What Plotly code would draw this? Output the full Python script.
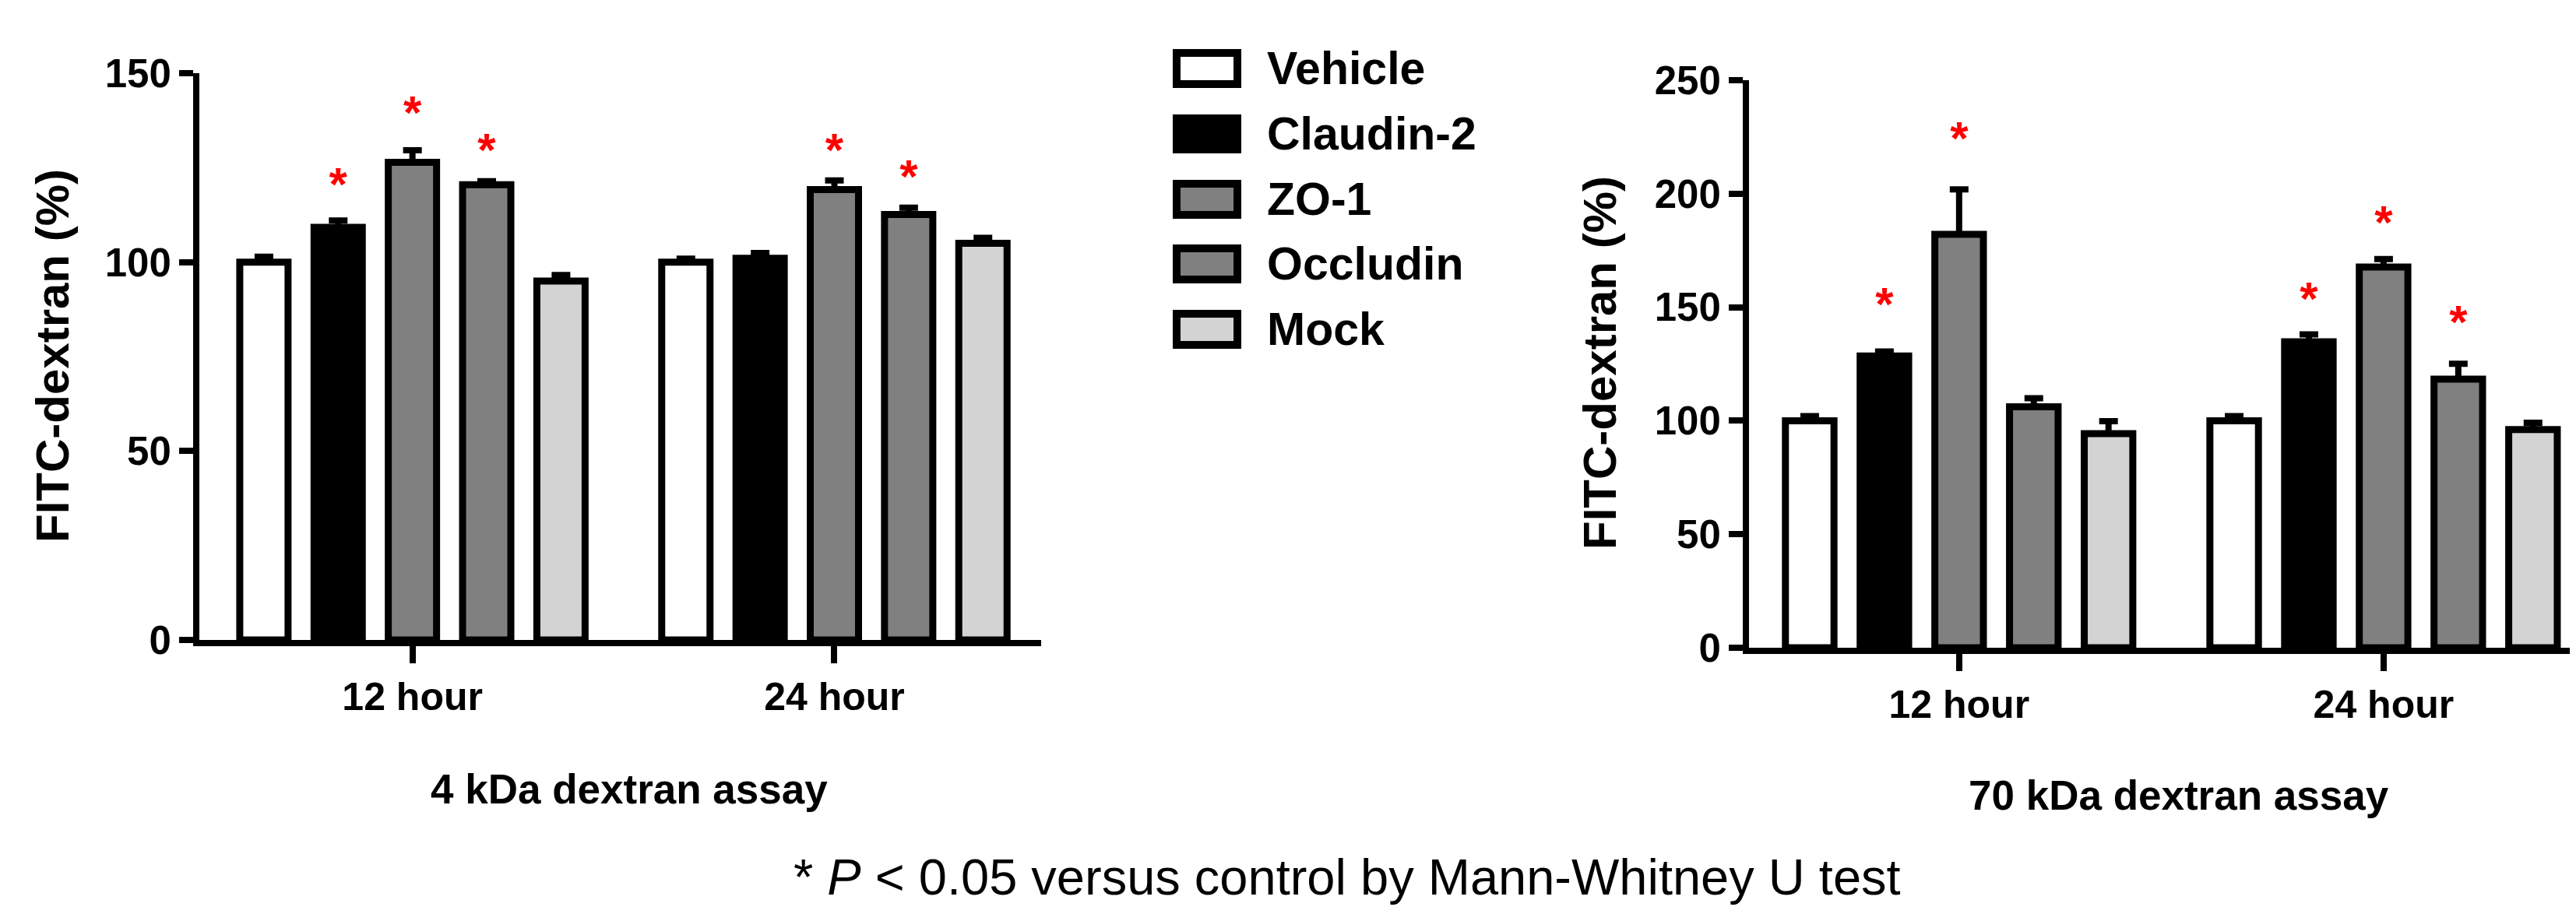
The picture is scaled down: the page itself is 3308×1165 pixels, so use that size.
import plotly.graph_objects as go

W, H = 3308, 1165

# ---------------- data ----------------
groups = ["12 hour", "24 hour"]
series = ["Vehicle", "Claudin-2", "ZO-1", "Occludin", "Mock"]
colors = ["#ffffff", "#000000", "#808080", "#808080", "#d3d3d3"]

# 4 kDa dextran assay (12 hour, 24 hour)
k4_vehicle = [100.0, 100.0]
k4_claudin2 = [109.2, 101.0]
k4_zo1 = [126.4, 119.2]
k4_occludin = [120.5, 112.6]
k4_mock = [95.0, 105.0]
k4_vehicle_err = [1.4, 0.9]
k4_claudin2_err = [1.8, 1.4]
k4_zo1_err = [3.2, 2.4]
k4_occludin_err = [0.9, 1.8]
k4_mock_err = [1.6, 1.4]
# asterisk heights (None = not significant)
k4_star_claudin2 = [119.5, None]
k4_star_zo1 = [138.5, 128.6]
k4_star_occludin = [128.5, 121.5]

# 70 kDa dextran assay (12 hour, 24 hour)
k70_vehicle = [100.0, 100.0]
k70_claudin2 = [128.5, 134.8]
k70_zo1 = [182.1, 167.7]
k70_occludin = [106.1, 118.3]
k70_mock = [94.3, 96.1]
k70_vehicle_err = [2.0, 2.0]
k70_claudin2_err = [2.0, 3.2]
k70_zo1_err = [19.8, 3.5]
k70_occludin_err = [3.8, 6.8]
k70_mock_err = [5.5, 3.0]
k70_star_claudin2 = [149.5, 152.0]
k70_star_zo1 = [222.5, 185.5]
k70_star_occludin = [None, 141.5]

y1_ticks = [0, 50, 100, 150]
y2_ticks = [0, 50, 100, 150, 200, 250]

# --------------- figure ---------------
BARGAP = 0.12
GROUPGAP = 0.35
LINE_W = 9

fig = go.Figure()

panels = [
    dict(xa="x", ya="y",
         means=[k4_vehicle, k4_claudin2, k4_zo1, k4_occludin, k4_mock],
         errs=[k4_vehicle_err, k4_claudin2_err, k4_zo1_err, k4_occludin_err, k4_mock_err],
         stars=[None, k4_star_claudin2, k4_star_zo1, k4_star_occludin, None]),
    dict(xa="x2", ya="y2",
         means=[k70_vehicle, k70_claudin2, k70_zo1, k70_occludin, k70_mock],
         errs=[k70_vehicle_err, k70_claudin2_err, k70_zo1_err, k70_occludin_err, k70_mock_err],
         stars=[None, k70_star_claudin2, k70_star_zo1, k70_star_occludin, None]),
]

slot = (1 - BARGAP) / len(series)
for p in panels:
    for i, name in enumerate(series):
        fig.add_trace(go.Bar(
            x=[0, 1], y=p["means"][i], name=name, showlegend=False,
            xaxis=p["xa"], yaxis=p["ya"],
            marker=dict(color=colors[i], line=dict(color="black", width=LINE_W)),
            error_y=dict(type="data", array=p["errs"][i], arrayminus=[0, 0],
                         symmetric=False, color="black", thickness=8, width=12),
        ))
    sx, sy = [], []
    for i, st in enumerate(p["stars"]):
        if st is None:
            continue
        for g, v in enumerate(st):
            if v is None:
                continue
            sx.append(g + (i - (len(series) - 1) / 2) * slot)
            sy.append(v)
    fig.add_trace(go.Scatter(
        x=sx, y=sy, mode="text", text=["*"] * len(sx), showlegend=False,
        xaxis=p["xa"], yaxis=p["ya"], textposition="middle center",
        textfont=dict(color="#ff0000", size=60, family="Liberation Sans, Arial", weight="bold"),
        cliponaxis=False,
    ))

FONT = "Liberation Sans, Arial, sans-serif"

def xax(domain, rng):
    return dict(domain=domain, range=rng, tickmode="array", tickvals=[0, 1], ticktext=groups,
                showline=True, linewidth=8, linecolor="black", ticks="outside", ticklen=22,
                tickwidth=8, tickcolor="black", showgrid=False, zeroline=False, automargin=False,
                tickfont=dict(family=FONT, size=50, color="black", weight="bold"))

def yax(domain, rng, tv):
    return dict(domain=domain, range=rng, tickmode="array", tickvals=tv,
                showline=True, linewidth=8, linecolor="black", ticks="outside", ticklen=18,
                tickwidth=8, tickcolor="black", showgrid=False, zeroline=False, automargin=False,
                tickfont=dict(family=FONT, size=51, color="black", weight="bold"))

fig.update_layout(
    width=W, height=H, margin=dict(l=0, r=0, t=0, b=0, pad=0, autoexpand=False),
    paper_bgcolor="white", plot_bgcolor="white",
    barmode="group", bargap=BARGAP, bargroupgap=GROUPGAP,
    showlegend=False,
    xaxis=dict(**xax([248 / W, 1329 / W], [-0.505, 1.49]), anchor="y"),
    yaxis=dict(**yax([1 - 814 / H, 1 - 86 / H], [0, 150], y1_ticks), anchor="x"),
    xaxis2=dict(**xax([2238 / W, 1.0], [-0.495, 1.468]), anchor="y2"),
    yaxis2=dict(**yax([1 - 824 / H, 1 - 95 / H], [0, 250], y2_ticks), anchor="x2"),
)

def px(x):
    return x / W

def py(y):
    return 1 - y / H

ann = []
# y axis titles
for xc, yc in [(60, 449), (2047, 458)]:
    ann.append(dict(text="FITC-dextran (%)", x=px(xc), y=py(yc), xref="paper", yref="paper",
                    xanchor="center", yanchor="middle", textangle=-90, showarrow=False,
                    font=dict(family=FONT, size=60, color="black", weight="bold")))
# panel titles
ann.append(dict(text="4 kDa dextran assay", x=px(800), y=py(1005), xref="paper", yref="paper",
                xanchor="center", yanchor="middle", showarrow=False,
                font=dict(family=FONT, size=53, color="black", weight="bold")))
ann.append(dict(text="70 kDa dextran assay", x=px(2790), y=py(1013), xref="paper", yref="paper",
                xanchor="center", yanchor="middle", showarrow=False,
                font=dict(family=FONT, size=53, color="black", weight="bold")))
# footnote
ann.append(dict(text="* <i>P</i> &lt; 0.05 versus control by Mann-Whitney U test",
                x=px(1722), y=py(1118), xref="paper", yref="paper",
                xanchor="center", yanchor="middle", showarrow=False,
                font=dict(family=FONT, size=65, color="black")))

# legend (drawn manually)
legend_rows = [80, 164, 248, 331, 415]
shapes = []
for i, name in enumerate(series):
    yc = legend_rows[i]
    shapes.append(dict(type="rect", xref="paper", yref="paper",
                       x0=px(1503), x1=px(1581), y0=py(yc + 20), y1=py(yc - 20),
                       line=dict(color="black", width=10), fillcolor=colors[i]))
    ann.append(dict(text=name, x=px(1617), y=py(yc), xref="paper", yref="paper",
                    xanchor="left", yanchor="middle", showarrow=False,
                    font=dict(family=FONT, size=59, color="black", weight="bold")))

fig.update_layout(annotations=ann, shapes=shapes)
fig.write_html("out.html")
